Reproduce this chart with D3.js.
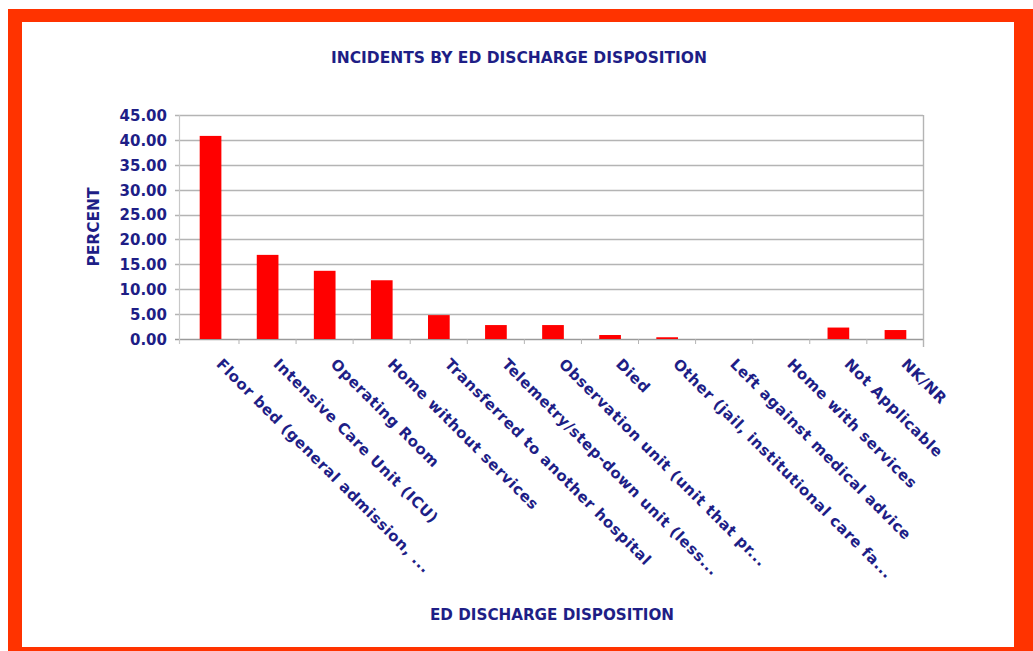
<!DOCTYPE html>
<html>
<head>
<meta charset="utf-8">
<script src="https://cdn.jsdelivr.net/npm/d3@7"></script>
<style>
  html, body { margin: 0; padding: 0; background: #ffffff; }
  svg { display: block; }
</style>
</head>
<body>
<div id="chart"></div>
<script>
const categories = [
  "Floor bed (general admission, ...",
  "Intensive Care Unit (ICU)",
  "Operating Room",
  "Home without services",
  "Transferred to another hospital",
  "Telemetry/step-down unit (less...",
  "Observation unit (unit that pr...",
  "Died",
  "Other (jail, institutional care fa...",
  "Left against medical advice",
  "Home with services",
  "Not Applicable",
  "NK/NR"
];
const percentValues = [40.8, 16.9, 13.7, 11.8, 4.8, 2.8, 2.8, 0.8, 0.35, 0.0, 0.0, 2.3, 1.8];
const yTickValues = [0, 5, 10, 15, 20, 25, 30, 35, 40, 45];
const chartTitle = "INCIDENTS BY ED DISCHARGE DISPOSITION";
const xAxisTitle = "ED DISCHARGE DISPOSITION";
const yAxisTitle = "PERCENT";

const W = 1033, H = 651;
const navy = "#1e1e86";
const font = "'DejaVu Sans', sans-serif";
const condFont = "'DejaVu Sans Condensed', 'DejaVu Sans', sans-serif";

const svg = d3.select("#chart").append("svg").attr("width", W).attr("height", H);

// frame
svg.append("rect").attr("x", 0).attr("y", 0).attr("width", W).attr("height", H).attr("fill", "#ffffff");
svg.append("rect").attr("x", 8).attr("y", 9).attr("width", W - 8).attr("height", H - 9).attr("fill", "#ff3300");
svg.append("rect").attr("x", 22).attr("y", 22).attr("width", 1014 - 22).attr("height", 647 - 22).attr("fill", "#ffffff");

const plot = { left: 179, right: 923, top: 115, bottom: 339 };

const x = d3.scaleBand().domain(categories).range([plot.left + 3, plot.right + 1]).paddingInner(0.62).paddingOuter(0.31);
const y = d3.scaleLinear().domain([0, 45]).range([plot.bottom, plot.top]);

// gridlines
svg.append("g").selectAll("line").data(yTickValues).join("line")
  .attr("x1", plot.left - 4).attr("x2", plot.right)
  .attr("y1", d => Math.round(y(d)) + 0.5).attr("y2", d => Math.round(y(d)) + 0.5)
  .attr("stroke", d => d === 0 ? "#9a9a9a" : "#b4b4b4").attr("stroke-width", 1.6);

// plot side lines
svg.append("line").attr("x1", plot.left + 0.5).attr("x2", plot.left + 0.5)
  .attr("y1", plot.top).attr("y2", plot.bottom + 5).attr("stroke", "#c8c8c8").attr("stroke-width", 1.2);
svg.append("line").attr("x1", plot.right + 0.5).attr("x2", plot.right + 0.5)
  .attr("y1", plot.top).attr("y2", plot.bottom + 8).attr("stroke", "#b4b4b4").attr("stroke-width", 1.4);

// category boundary ticks
svg.append("g").selectAll("line").data(d3.range(1, categories.length)).join("line")
  .attr("x1", i => x(categories[i]) - x.bandwidth() * 0.82)
  .attr("x2", i => x(categories[i]) - x.bandwidth() * 0.82)
  .attr("y1", plot.bottom).attr("y2", plot.bottom + 5)
  .attr("stroke", "#b4b4b4").attr("stroke-width", 1);

// y tick labels
const yAxis = d3.axisLeft(y).tickValues(yTickValues).tickFormat(d3.format(".2f")).tickSize(0).tickPadding(0);
const ya = svg.append("g").attr("transform", `translate(${167},0)`).call(yAxis);
ya.select(".domain").remove();
ya.selectAll("text").attr("fill", navy).attr("font-family", font).attr("font-weight", "bold").attr("font-size", 15).attr("dy", "0.36em");

// bars
svg.append("g").selectAll("rect").data(percentValues).join("rect")
  .attr("x", (d, i) => x(categories[i]))
  .attr("width", x.bandwidth())
  .attr("y", d => y(d))
  .attr("height", d => plot.bottom - y(d))
  .attr("fill", "#ff0000");

// category labels
svg.append("g").selectAll("text").data(categories).join("text")
  .attr("transform", d => `translate(${x(d) + x.bandwidth() / 2 + 5},${plot.bottom + 26}) rotate(45)`)
  .attr("text-anchor", "start")
  .attr("fill", navy).attr("font-family", font).attr("font-weight", "bold").attr("font-size", 15)
  .attr("letter-spacing", 0.6)
  .text(d => d);

// titles
svg.append("text").attr("x", 519).attr("y", 63).attr("text-anchor", "middle")
  .attr("fill", navy).attr("font-family", condFont).attr("font-weight", "bold").attr("font-size", 16)
  .attr("textLength", 376).attr("lengthAdjust", "spacingAndGlyphs")
  .text(chartTitle);

svg.append("text").attr("x", 552).attr("y", 620).attr("text-anchor", "middle")
  .attr("fill", navy).attr("font-family", condFont).attr("font-weight", "bold").attr("font-size", 16)
  .attr("textLength", 244).attr("lengthAdjust", "spacingAndGlyphs")
  .text(xAxisTitle);

svg.append("text").attr("transform", `translate(99,227) rotate(-90)`).attr("text-anchor", "middle")
  .attr("fill", navy).attr("font-family", condFont).attr("font-weight", "bold").attr("font-size", 15)
  .attr("textLength", 79).attr("lengthAdjust", "spacingAndGlyphs")
  .text(yAxisTitle);
</script>
</body>
</html>
